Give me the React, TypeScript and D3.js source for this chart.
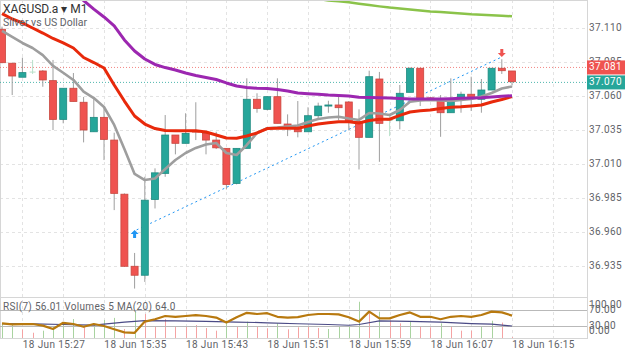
import * as d3 from "d3";

// candles, one per minute from 18 Jun 15:22 to 16:12
const opens = [37.1091, 37.0841, 37.0738, 37.0776, 37.0784, 37.0713, 37.0428, 37.0657, 37.0554, 37.0337, 37.0443, 37.0276, 36.9878, 36.9348, 36.9282, 36.9839, 37.0031, 37.0313, 37.0252, 37.0342, 37.0325, 37.0276, 37.0215, 36.9957, 37.0215, 37.0576, 37.0502, 37.0595, 37.0394, 37.0355, 37.0337, 37.0455, 37.0526, 37.0534, 37.0556, 37.0411, 37.0296, 37.0725, 37.042, 37.0418, 37.0627, 37.0804, 37.0586, 37.0576, 37.0477, 37.0583, 37.0613, 37.0576, 37.0644, 37.0804, 37.0784];
const highs = [37.111, 37.0841, 37.0882, 37.0865, 37.0791, 37.0865, 37.0657, 37.0769, 37.0593, 37.0595, 37.0519, 37.033, 36.9884, 36.9446, 37.0006, 37.0068, 37.046, 37.0313, 37.0473, 37.0554, 37.0325, 37.0337, 37.0215, 37.0215, 37.073, 37.062, 37.06, 37.073, 37.0465, 37.0563, 37.0517, 37.0551, 37.0565, 37.0595, 37.0563, 37.0502, 37.0786, 37.0777, 37.046, 37.0681, 37.081, 37.0804, 37.0592, 37.0607, 37.073, 37.0632, 37.0742, 37.0725, 37.0804, 37.087, 37.0784];
const lows = [37.0841, 37.0607, 37.0738, 37.0762, 37.0668, 37.035, 37.0399, 37.056, 37.0259, 37.0337, 37.0129, 36.9761, 36.9343, 36.9184, 36.9233, 36.9773, 37.0006, 37.0171, 37.0252, 37.0276, 37.0171, 37.021, 36.9913, 36.995, 37.0215, 37.0477, 37.0495, 37.0399, 37.0305, 37.0296, 37.0337, 37.0423, 37.0477, 37.0423, 37.035, 37.006, 37.0296, 37.0116, 37.0305, 37.0355, 37.0627, 37.0526, 37.0578, 37.03, 37.0477, 37.0477, 37.049, 37.0477, 37.0644, 37.0762, 37.0681];
const closes = [37.0845, 37.0747, 37.0772, 37.0776, 37.0718, 37.0428, 37.0657, 37.056, 37.035, 37.0443, 37.0281, 36.9884, 36.9348, 36.9282, 36.9834, 37.0035, 37.0313, 37.0252, 37.0325, 37.0335, 37.0276, 37.0219, 36.995, 37.0215, 37.0576, 37.0509, 37.0595, 37.0399, 37.0374, 37.0337, 37.0455, 37.0526, 37.0534, 37.0514, 37.0411, 37.0296, 37.0742, 37.0399, 37.042, 37.062, 37.0804, 37.0583, 37.0583, 37.0477, 37.0558, 37.0613, 37.0587, 37.0644, 37.0804, 37.0786, 37.0705];

// moving averages
const maGrey = [37.1078, 37.1034, 37.099, 37.0953, 37.0901, 37.0821, 37.0771, 37.0718, 37.0632, 37.0585, 37.0519, 37.0387, 37.021, 37.0027, 36.9982, 36.9993, 37.0063, 37.0129, 37.0181, 37.0218, 37.0243, 37.0254, 37.0181, 37.0166, 37.024, 37.0328, 37.0363, 37.0368, 37.0376, 37.0383, 37.0409, 37.0431, 37.0442, 37.0448, 37.0435, 37.0424, 37.0475, 37.0471, 37.046, 37.0497, 37.0558, 37.0568, 37.0571, 37.0567, 37.0563, 37.0571, 37.0578, 37.0596, 37.0622, 37.0655, 37.067];
const maRed = [37.1206, 37.1166, 37.1137, 37.11, 37.1063, 37.1023, 37.099, 37.0953, 37.0883, 37.0846, 37.0806, 37.0681, 37.0563, 37.0453, 37.0394, 37.0361, 37.0346, 37.0345, 37.0345, 37.0345, 37.0335, 37.0313, 37.0291, 37.0289, 37.0306, 37.0328, 37.0361, 37.0363, 37.0363, 37.0363, 37.038, 37.0394, 37.0404, 37.0411, 37.0411, 37.0402, 37.042, 37.0429, 37.0429, 37.0457, 37.0482, 37.0492, 37.0497, 37.0508, 37.0517, 37.0521, 37.0527, 37.0534, 37.0556, 37.0574, 37.0595];
const purpleStart = 7;
const maPurple = [37.1364, 37.1302, 37.1239, 37.1181, 37.1115, 37.1012, 37.0931, 37.0872, 37.0832, 37.0809, 37.0791, 37.0769, 37.0751, 37.0736, 37.0721, 37.0696, 37.0674, 37.0662, 37.0657, 37.0655, 37.0648, 37.0637, 37.0622, 37.0617, 37.0612, 37.0607, 37.0604, 37.06, 37.059, 37.0589, 37.0588, 37.0585, 37.0582, 37.0578, 37.0578, 37.0578, 37.0578, 37.058, 37.0583, 37.0585, 37.0588, 37.0593, 37.0598, 37.0602];
const greenStart = 31;
const maGreen = [37.1313, 37.1303, 37.1296, 37.1289, 37.1279, 37.1269, 37.1259, 37.125, 37.1243, 37.1236, 37.1229, 37.1222, 37.1217, 37.1212, 37.1207, 37.1201, 37.1197, 37.1193, 37.119, 37.1186];

// lower panel
const rsi = [36.7, 34, 34.5, 35, 31, 22.5, 38, 35, 28, 35, 30, 21.7, 14, 13, 41, 47, 55, 53, 55, 57, 55, 51, 39, 51.7, 63, 60, 62, 53, 51, 52, 57.5, 60, 60, 59, 52, 41, 66, 49, 49, 57.5, 64, 53, 53, 47, 53, 55, 53, 57.5, 66, 64, 56.01];
const volumes = [78, 69, 46, 28, 39, 64, 80, 101, 59, 69, 96, 107, 48, 140, 128, 59, 101, 59, 59, 69, 53, 39, 87, 64, 87, 60, 52, 78, 46, 57, 64, 53, 48, 64, 64, 193, 133, 140, 92, 78, 87, 60, 57, 78, 60, 39, 39, 60, 92, 82, 5];
const volUp = [1, 1, 0, 0, 1, 1, 1, 1, 0, 1, 1, 1, 0, 1, 0, 0, 0, 0, 0, 0, 0, 0, 1, 0, 1, 0, 0, 1, 0, 0, 0, 0, 1, 1, 1, 1, 0, 1, 0, 0, 1, 0, 0, 1, 0, 0, 0, 1, 1, 0, 0];
const volMaIdx = [0, 3, 6, 9, 12, 14, 17, 20, 23, 26, 29, 32, 34, 35, 37, 40, 43, 46, 48, 50];
const volMa = [77, 75, 72, 69, 85, 93, 91, 88, 85, 81, 76, 72, 68, 72, 91, 89, 85, 77, 74, 64];

const priceTicks = [37.11, 37.085, 37.06, 37.035, 37.01, 36.985, 36.96, 36.935];
const timeTickIdx = [5, 13, 21, 29, 37, 45, 53];
const timeTickLabels = ["18 Jun 15:27", "18 Jun 15:35", "18 Jun 15:43", "18 Jun 15:51", "18 Jun 15:59", "18 Jun 16:07", "18 Jun 16:15"];
const rsiLevels = [100, 70, 30, 0];

const askPrice = 37.081;
const bidPrice = 37.07;
const tradeIn = { i: 13, price: 36.9608 };
const tradeOut = { i: 49, price: 37.0887 };

const RED = "#ef5350";
const TEAL = "#26a69a";
const FONT = "Roboto, 'Noto Sans', sans-serif";
const TXT = "#5f6368";

export default function App() {
  const x = d3.scaleLinear().domain([0, 50]).range([2, 512]);
  const y = d3.scaleLinear().domain([36.935, 37.11]).range([266, 28]);
  const yR = d3.scaleLinear().domain([0, 100]).range([338, 298]);
  const yV = d3.scaleLinear().domain([0, 213]).range([338, 298]);
  const fmt = d3.format(".3f");

  const right = 587;
  const mainBottom = 297;

  const line = d3.line<[number, number]>().x((d) => d[0]).y((d) => d[1]);
  const maPath = (vals: number[], start: number) =>
    line(vals.map((v, k) => [x(start + k), y(v)] as [number, number])) || "";

  const rsiPath = line(rsi.map((v, i) => [x(i), yR(v)] as [number, number])) || "";
  const volMaPath = line(volMa.map((v, k) => [x(volMaIdx[k]), yV(v)] as [number, number])) || "";

  const gridX = d3.range(2, 55, 4);
  const bw = 7;

  const inX = x(tradeIn.i), inY = y(tradeIn.price);
  const outX = x(tradeOut.i), outY = y(tradeOut.price);

  return (
    <svg width={625} height={352} style={{ position: "fixed", left: 0, top: 0, background: "#fff" }} fontFamily={FONT}>
      <defs>
        <clipPath id="main">
          <rect x={0} y={1} width={right} height={mainBottom - 1} />
        </clipPath>
      </defs>

      {/* grid */}
      <g stroke="#e3e3e3" strokeDasharray="3,3">
        {priceTicks.map((p) => (
          <line key={p} x1={0} x2={right} y1={Math.round(y(p)) + 0.5} y2={Math.round(y(p)) + 0.5} />
        ))}
        {gridX.map((i) => (
          <line key={i} x1={Math.round(x(i)) + 0.5} x2={Math.round(x(i)) + 0.5} y1={0} y2={338} />
        ))}
      </g>

      {/* frame */}
      <g stroke="#d6d6d6" fill="none">
        <line x1={0} x2={right} y1={0.5} y2={0.5} />
        <line x1={0.5} x2={0.5} y1={0} y2={338} />
        <line x1={right + 0.5} x2={right + 0.5} y1={0} y2={339} />
        <line x1={0} x2={right} y1={mainBottom + 0.5} y2={mainBottom + 0.5} />
        <line x1={0} x2={right} y1={338.5} y2={338.5} />
      </g>

      <g clipPath="url(#main)">
        {/* bid / ask */}
        <line x1={0} x2={right} y1={y(askPrice)} y2={y(askPrice)} stroke={RED} strokeWidth={1} strokeDasharray="1,2" opacity={0.7} />
        <line x1={0} x2={right} y1={y(bidPrice)} y2={y(bidPrice)} stroke={TEAL} strokeWidth={1} strokeDasharray="1,2" opacity={0.8} />

        {/* trade line */}
        <line x1={inX + 2} y1={inY - 1} x2={outX} y2={outY} stroke="#2196f3" strokeWidth={1} strokeDasharray="2,3" />

        {/* candles */}
        {opens.map((o, i) => {
          const c = closes[i];
          const flat = o === c;
          const up = c > o;
          const top = y(Math.max(o, c));
          const bot = y(Math.min(o, c));
          const cx = x(i);
          return (
            <g key={i}>
              <line x1={cx} x2={cx} y1={y(highs[i])} y2={y(lows[i])} stroke={flat ? "#b7e0c9" : "#9e9e9e"} strokeWidth={1} />
              {flat ? (
                <line x1={cx - 3} x2={cx + 3} y1={top} y2={top} stroke="#b7e0c9" strokeWidth={1} />
              ) : (
                <rect x={cx - bw / 2} y={top} width={bw} height={Math.max(1, bot - top)}
                  fill={up ? TEAL : RED} stroke={up ? "#1f8a80" : "#c9473f"} strokeWidth={0.8} />
              )}
            </g>
          );
        })}

        {/* moving averages */}
        <path d={maPath(maGrey, 0)} fill="none" stroke="#9e9e9e" strokeWidth={2.6} strokeLinejoin="round" />
        <path d={maPath(maRed, 0)} fill="none" stroke="#e8290b" strokeWidth={3} strokeLinejoin="round" />
        <path d={maPath(maPurple, purpleStart)} fill="none" stroke="#9c27b0" strokeWidth={3} strokeLinejoin="round" />
        <path d={maPath(maGreen, greenStart)} fill="none" stroke="#8bc34a" strokeWidth={2.5} strokeLinejoin="round" />

        {/* trade arrows */}
        <path d={`M${inX},${inY - 1} L${inX + 4},${inY + 3} L${inX + 1.5},${inY + 3} L${inX + 1.5},${inY + 7} L${inX - 1.5},${inY + 7} L${inX - 1.5},${inY + 3} L${inX - 4},${inY + 3} Z`} fill="#2196f3" />
        <path d={`M${outX},${outY} L${outX + 4},${outY - 4} L${outX + 1.5},${outY - 4} L${outX + 1.5},${outY - 8} L${outX - 1.5},${outY - 8} L${outX - 1.5},${outY - 4} L${outX - 4},${outY - 4} Z`} fill={RED} />
      </g>

      {/* title */}
      <text x={3} y={13} fontSize={12} fill="#333">XAGUSD.a ▾ M1</text>
      <text x={3} y={26} fontSize={10.5} fill={TXT}>Silver vs US Dollar</text>

      {/* price axis */}
      <g fontSize={10} fill={TXT} letterSpacing={0.4}>
        {priceTicks.map((p) => (
          <text key={p} x={right + 2} y={y(p)} dominantBaseline="middle">{fmt(p)}</text>
        ))}
      </g>
      <rect x={right} y={y(askPrice) - 7} width={38} height={14} fill={RED} />
      <text x={right + 2} y={y(askPrice)} dominantBaseline="middle" fontSize={10} letterSpacing={0.4} fill="#fff">{fmt(askPrice)}</text>
      <rect x={right} y={y(bidPrice) - 7} width={38} height={14} fill={TEAL} />
      <text x={right + 2} y={y(bidPrice)} dominantBaseline="middle" fontSize={10} letterSpacing={0.4} fill="#fff">{fmt(bidPrice)}</text>

      {/* lower panel: volumes, RSI */}
      <g>
        {volumes.map((v, i) => (
          <line key={i} x1={Math.round(x(i)) + 0.5} x2={Math.round(x(i)) + 0.5} y1={yV(0)} y2={yV(v)}
            stroke={volUp[i] ? "#a9d3a0" : "#f5a3a3"} strokeWidth={1} />
        ))}
        <line x1={0} x2={right} y1={Math.round(yR(70)) + 0.5} y2={Math.round(yR(70)) + 0.5} stroke="#b9b9b9" />
        <line x1={0} x2={right} y1={Math.round(yR(30)) + 0.5} y2={Math.round(yR(30)) + 0.5} stroke="#b9b9b9" />
        <path d={volMaPath} fill="none" stroke="#4b4b86" strokeWidth={1.2} />
        <path d={rsiPath} fill="none" stroke="#b8790f" strokeWidth={2.2} strokeLinejoin="round" />
      </g>
      <text x={3} y={310} fontSize={10} fill={TXT} letterSpacing={0.3}>RSI(7) 56.01 Volumes 5 MA(20) 64.0</text>
      <g fontSize={10} fill={TXT} letterSpacing={0.4}>
        {rsiLevels.map((l) => (
          <text key={l} x={right + 2} y={Math.min(331.5, Math.max(305, yR(l)))} dominantBaseline="middle">{l.toFixed(2)}</text>
        ))}
      </g>

      {/* time axis */}
      <g fontSize={10} fill={TXT} letterSpacing={0.4} textAnchor="middle">
        {timeTickIdx.map((t, k) => (
          <text key={t} x={x(t) + 1} y={345} dominantBaseline="middle">{timeTickLabels[k]}</text>
        ))}
      </g>
    </svg>
  );
}
